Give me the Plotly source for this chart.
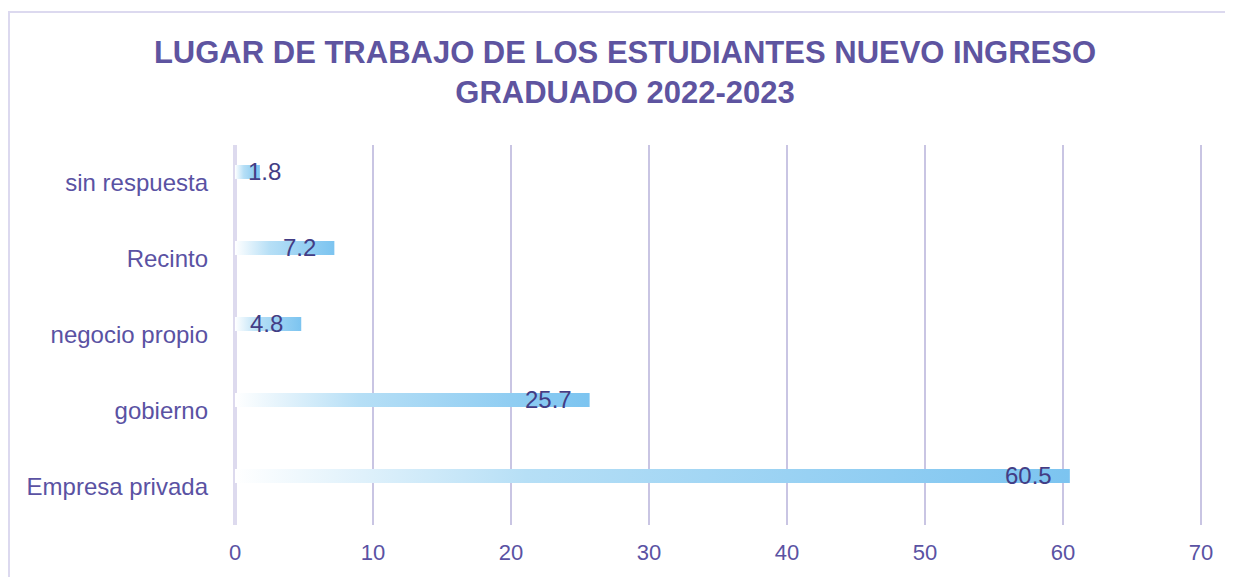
import plotly.graph_objects as go

categories = ["Empresa privada", "gobierno", "negocio propio", "Recinto", "sin respuesta"]
values = [60.5, 25.7, 4.8, 7.2, 1.8]
x_ticks = [0, 10, 20, 30, 40, 50, 60, 70]

TITLE = "LUGAR DE TRABAJO DE LOS ESTUDIANTES NUEVO INGRESO<br>GRADUADO 2022-2023"
W, H = 1225, 569
X_PAD = 0.15         # tiny range pad so the last gridline is drawn
ML, MR, MT, MB = 227, 30, 137, 52
BAR_OFF = 0.145      # bar drawn slightly above category centre
BAR_HALF = 0.092     # half bar thickness in category units
LABEL_COLOR = "#433d85"
TEXT_COLOR = "#5a52a3"
GRAD = [[0, "#ffffff"], [0.35, "#b6dff6"], [1, "#7cc4f0"]]

fig = go.Figure()
for i, (cat, v) in enumerate(zip(categories, values)):
    y0 = i + BAR_OFF - BAR_HALF
    y1 = i + BAR_OFF + BAR_HALF
    fig.add_trace(go.Scatter(
        x=[0, v, v, 0, 0], y=[y0, y0, y1, y1, y0],
        fill="toself", mode="lines", line=dict(width=0),
        fillgradient=dict(type="horizontal", colorscale=GRAD),
        hoverinfo="text", text=f"{cat}: {v}", showlegend=False,
    ))

PW = W - ML - MR
PH = H - MT - MB
x_max = x_ticks[-1] + X_PAD
px_per_unit = PW / (x_max - x_ticks[0])
for i, v in enumerate(values):
    xr = max(v - 16 / px_per_unit, 48 / px_per_unit)
    fig.add_annotation(x=xr, y=i + BAR_OFF, text=f"{v}", showarrow=False,
                       xanchor="right", yanchor="middle",
                       font=dict(family="Liberation Sans, Arial", size=24, color=LABEL_COLOR))

# outer frame (left and top edges visible)
fig.add_shape(type="rect", xref="paper", yref="paper",
              x0=(1 - ML) / PW, x1=(W + 40 - ML) / PW,
              y0=-(MB + 40) / PH, y1=(H - 4 - MB) / PH,
              line=dict(color="#dcd9ef", width=2), layer="below")

fig.update_layout(
    width=W, height=H,
    margin=dict(l=ML, r=MR, t=MT, b=MB),
    paper_bgcolor="white", plot_bgcolor="white",
    title=dict(text=TITLE, x=(625 - 8) / W, xref="container", xanchor="center",
               y=1 - 55 / H, yanchor="top",
               font=dict(family="Liberation Sans, Arial", size=31, color="#5e54a0", weight="bold")),
    xaxis=dict(range=[x_ticks[0], x_max], tickvals=x_ticks, showgrid=True,
               gridcolor="#c9c5e3", gridwidth=2, zeroline=True, zerolinecolor="#dddaee",
               zerolinewidth=4, showline=False, ticks="", ticklabelstandoff=12,
               tickfont=dict(family="Liberation Sans, Arial", size=22, color=TEXT_COLOR)),
    yaxis=dict(range=[-0.5, len(categories) - 0.5], tickvals=list(range(len(categories))),
               ticktext=categories, showgrid=False, zeroline=False, showline=False,
               ticks="", ticklabelstandoff=26,
               tickfont=dict(family="Liberation Sans, Arial", size=24, color=TEXT_COLOR)),
    hovermode="closest",
)

fig.write_html("out.html")
